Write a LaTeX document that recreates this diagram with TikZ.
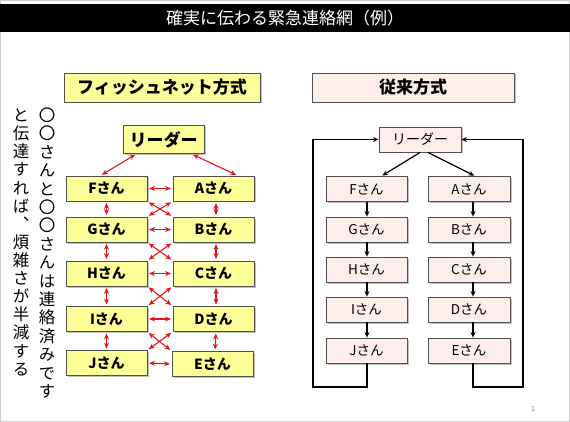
\documentclass[tikz,border=0pt]{standalone}
\usepackage{fontspec}
\setmainfont{Noto Sans CJK JP}
\newfontfamily\jpv[RawFeature=+vert]{Noto Sans CJK JP}
\usetikzlibrary{arrows.meta,shadows}
\definecolor{boxyellow}{HTML}{FFFF99}
\definecolor{boxpink}{HTML}{FDEEEC}
\definecolor{edge}{HTML}{505050}
\definecolor{netred}{HTML}{E8141B}
\begin{document}
\begin{tikzpicture}[x=1pt,y=-1pt,
  basebox/.style={draw=edge, line width=0.9pt, inner sep=0pt,
    drop shadow={shadow xshift=1.5pt, shadow yshift=-1.5pt, fill=black!40, opacity=0.6}},
  ybox/.style={basebox, fill=boxyellow, minimum width=81pt, minimum height=25pt,
    font=\fontsize{14}{14}\selectfont\bfseries},
  pbox/.style={basebox, fill=boxpink, minimum width=81pt, minimum height=25pt,
    font=\fontsize{13.5}{13.5}\selectfont},
  headbox/.style={minimum width=198pt, minimum height=29pt,
    font=\fontsize{17}{17}\selectfont\bfseries},
  redarr/.style={draw=netred, line width=1.1pt,
    {Stealth[length=6pt,width=5pt]}-{Stealth[length=6pt,width=5pt]},
    shorten <=1.5pt, shorten >=1.5pt},
  blkarr/.style={draw=black, line width=1.2pt, -{Stealth[length=5.5pt,width=5pt]}},
  vch/.style={inner sep=0pt, text height=13pt, text depth=3pt,
    font=\jpv\fontsize{16.5}{16.5}\selectfont}
]
\useasboundingbox (0,0) rectangle (570,422);
\draw[black!20, line width=0.8pt] (0.4,0.4) rectangle (569.6,421.6);

% title bar
\node[fill=black, minimum width=570pt, minimum height=28pt, inner sep=0pt,
  text=white, font=\fontsize{17}{17}\selectfont] (title) at (285,18)
  {確実に伝わる緊急連絡網（例）};

% vertical text
\foreach [count=\i] \c in {〇,〇,さ,ん,と,〇,〇,さ,ん,は,連,絡,済,み,で,す}
  \node[vch] (r\i) at (47,{98.1+18.4*\i}) {\c};
\foreach [count=\i] \c in {と,伝,達,す,れ,ば,、,煩,雑,さ,が,半,減,す,る}
  \node[vch] (l\i) at (21,{98.6+18.1*\i}) {\c};

% ---- fishnet method ----
\node[ybox, headbox, minimum width=196pt] (hL) at (162,87.5) {フィッシュネット方式};
\node[ybox, minimum height=28pt, font=\fontsize{17}{17}\selectfont\bfseries] (LL) at (163.5,139.5) {リーダー};
\node[ybox] (F) at (106.5,188.5) {Fさん};
\node[ybox] (A) at (213.5,188.5) {Aさん};
\node[ybox] (G) at (106.5,229.5) {Gさん};
\node[ybox] (B) at (213.5,229.5) {Bさん};
\node[ybox] (H) at (106.5,273.5) {Hさん};
\node[ybox] (C) at (213.5,273.5) {Cさん};
\node[ybox] (I) at (106.5,319) {Iさん};
\node[ybox] (D) at (213.5,319) {Dさん};
\node[ybox] (J) at (106.5,363) {Jさん};
\node[ybox] (E) at (212.5,364) {Eさん};

\draw[redarr] ([xshift=-27pt]LL.south) -- ([xshift=-6pt]F.north);
\draw[redarr] ([xshift=28pt]LL.south) -- ([xshift=24pt]A.north);
\foreach \a/\b in {F/A,G/B,H/C,I/D,J/E}
  \draw[redarr] (\a.east) -- (\b.west);
\foreach \a/\b in {F/G,G/H,H/I,I/J}
  \draw[redarr] (\a.south) -- (\b.north);
\foreach \a/\b in {A/B,B/C,C/D,D/E}
  \draw[redarr] ([xshift=2.5pt]\a.south) -- ([xshift=2.5pt]\b.north);
\foreach \a/\b/\c/\d in {F/A/G/B,G/B/H/C,H/C/I/D,I/D/J/E}{
  \draw[redarr] (\a.south east) -- (\d.north west);
  \draw[redarr] (\b.south west) -- (\c.north east);
}

% ---- conventional method ----
\node[pbox, headbox, minimum width=202pt] (hR) at (413,87.5) {従来方式};
\node[pbox, minimum width=82pt, font=\fontsize{14}{14}\selectfont] (LR) at (420,139.5) {リーダー};
\node[pbox] (Fr) at (366.5,189) {Fさん};
\node[pbox, minimum width=82pt] (Ar) at (469,189) {Aさん};
\node[pbox] (Gr) at (366.5,229.5) {Gさん};
\node[pbox, minimum width=82pt] (Br) at (469,229.5) {Bさん};
\node[pbox] (Hr) at (366.5,269.5) {Hさん};
\node[pbox, minimum width=82pt] (Cr) at (469,269.5) {Cさん};
\node[pbox] (Ir) at (366.5,309.5) {Iさん};
\node[pbox, minimum width=82pt] (Dr) at (469,309.5) {Dさん};
\node[pbox] (Jr) at (366.5,350.5) {Jさん};
\node[pbox, minimum width=82pt] (Er) at (469,350.5) {Eさん};

\draw[blkarr, shorten >=1pt] (LR.south) -- ([xshift=15pt]Fr.north);
\draw[blkarr, shorten >=1pt] ([xshift=8pt]LR.south) -- ([xshift=6pt]Ar.north);
\foreach \a/\b in {Fr/Gr,Gr/Hr,Hr/Ir,Ir/Jr}
  \draw[blkarr] ([xshift=0.5pt]\a.south) -- ([xshift=0.5pt]\b.north);
\foreach \a/\b in {Ar/Br,Br/Cr,Cr/Dr,Dr/Er}
  \draw[blkarr] ([xshift=4pt]\a.south) -- ([xshift=4pt]\b.north);
\coordinate (lb) at (313,387);
\coordinate (rb) at (523,387);
\draw[blkarr] ([xshift=0.5pt]Jr.south) |- (lb) |- (LR.west);
\draw[blkarr] ([xshift=4pt]Er.south) |- (rb) |- (LR.east);

% page number
\node[font=\fontsize{7}{7}\selectfont, text=black!50] (pg) at (533,409) {1};
\end{tikzpicture}
\end{document}
